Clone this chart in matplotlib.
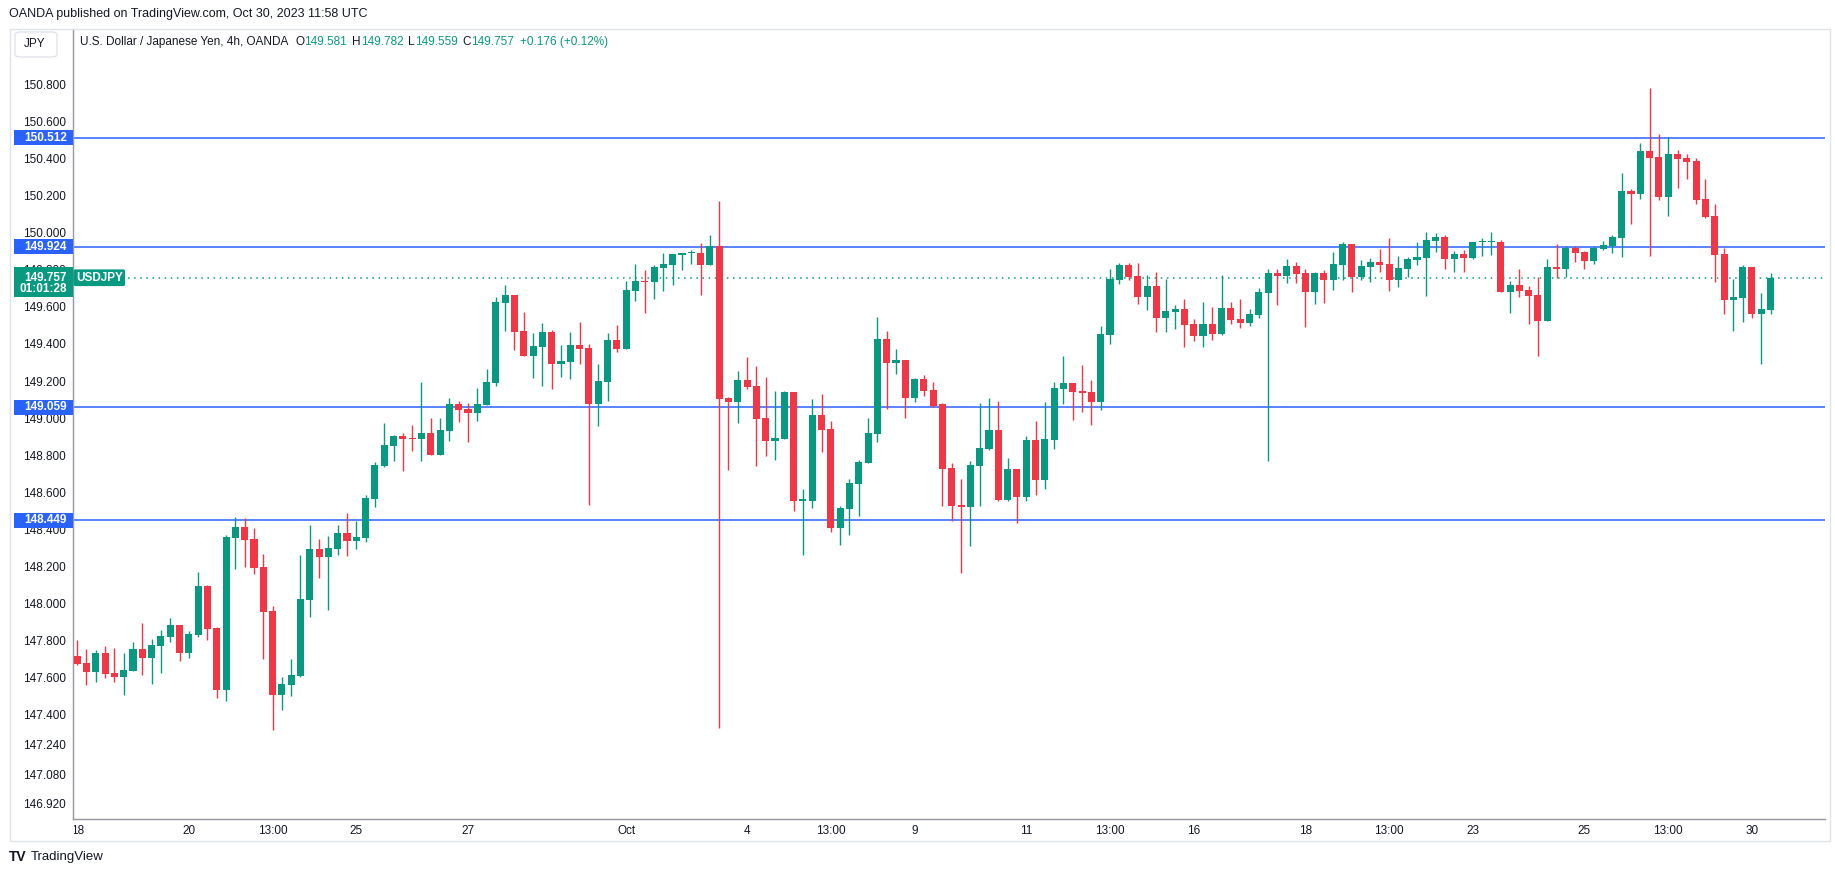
import matplotlib
matplotlib.use('Agg')
import matplotlib.pyplot as plt
import matplotlib.patches as patches
from matplotlib.transforms import blended_transform_factory, IdentityTransform, Bbox, TransformedBbox

plt.rcParams['font.family'] = ['Liberation Sans', 'DejaVu Sans']

# USD/JPY 4h candles, Sep 18 - Oct 30 2023
opens = [
    147.718, 147.680, 147.634, 147.734, 147.626, 147.607, 147.639, 147.756, 147.709, 147.774,
    147.822, 147.885, 147.736, 147.831, 148.096, 147.869, 147.537, 148.356, 148.414, 148.349,
    148.198, 147.961, 147.510, 147.563, 147.612, 148.022, 148.295, 148.254, 148.295, 148.381,
    148.340, 148.356, 148.566, 148.744, 148.852, 148.904, 148.895, 148.889, 148.920, 148.803,
    148.933, 149.076, 149.049, 149.030, 149.071, 149.191, 149.622, 149.664, 149.470, 149.337,
    149.385, 149.464, 149.294, 149.305, 149.394, 149.378, 149.078, 149.196, 149.421, 149.374,
    149.687, 149.739, 149.734, 149.811, 149.827, 149.881, 149.888, 149.890, 149.827, 149.930,
    149.110, 149.088, 149.205, 149.175, 149.001, 148.878, 148.890, 149.141, 148.556, 148.556,
    149.017, 148.942, 148.410, 148.512, 148.647, 148.760, 148.917, 149.427, 149.300, 149.314,
    149.111, 149.211, 149.152, 149.077, 148.732, 148.532, 148.523, 148.744, 148.836, 148.936,
    148.561, 148.726, 148.575, 148.882, 148.666, 148.882, 149.157, 149.189, 149.146, 149.141,
    149.087, 149.448, 149.745, 149.825, 149.766, 149.653, 149.712, 149.540, 149.572, 149.588,
    149.507, 149.443, 149.507, 149.453, 149.594, 149.534, 149.513, 149.556, 149.675, 149.782,
    149.766, 149.820, 149.782, 149.682, 149.782, 149.747, 149.827, 149.939, 149.763, 149.815,
    149.842, 149.831, 149.747, 149.804, 149.854, 149.865, 149.957, 149.977, 149.858, 149.885,
    149.863, 149.948, 149.948, 149.950, 149.682, 149.718, 149.691, 149.664, 149.526, 149.815,
    149.804, 149.917, 149.896, 149.849, 149.912, 149.930, 149.973, 150.225, 150.209, 150.440,
    150.408, 150.192, 150.424, 150.403, 150.386, 150.182, 150.090, 149.885, 149.637, 149.648,
    149.815, 149.563, 149.581,
]
highs = [
    147.804, 147.756, 147.750, 147.772, 147.760, 147.734, 147.792, 147.896, 147.810, 147.858,
    147.923, 147.885, 147.853, 148.171, 148.101, 147.875, 148.370, 148.468, 148.462, 148.408,
    148.268, 147.988, 147.607, 147.702, 148.263, 148.424, 148.349, 148.365, 148.424, 148.489,
    148.446, 148.586, 148.764, 148.974, 148.909, 148.920, 148.963, 149.195, 149.001, 149.001,
    149.109, 149.093, 149.082, 149.163, 149.265, 149.653, 149.718, 149.664, 149.572, 149.459,
    149.513, 149.475, 149.394, 149.464, 149.518, 149.400, 149.292, 149.459, 149.502, 149.739,
    149.831, 149.798, 149.826, 149.890, 149.885, 149.890, 149.906, 149.944, 149.987, 150.169,
    149.116, 149.254, 149.330, 149.281, 149.222, 149.146, 149.147, 149.141, 148.618, 149.104,
    149.131, 148.985, 148.527, 148.672, 148.775, 149.001, 149.546, 149.470, 149.373, 149.314,
    149.217, 149.233, 149.195, 149.082, 148.759, 148.672, 148.769, 149.082, 149.109, 149.093,
    148.786, 148.726, 148.904, 148.984, 149.087, 149.195, 149.335, 149.189, 149.286, 149.205,
    149.497, 149.804, 149.836, 149.836, 149.836, 149.772, 149.788, 149.750, 149.610, 149.642,
    149.534, 149.626, 149.599, 149.772, 149.626, 149.642, 149.588, 149.701, 149.804, 149.804,
    149.858, 149.842, 149.804, 149.788, 149.799, 149.896, 149.950, 149.939, 149.853, 149.863,
    149.912, 149.971, 149.874, 149.869, 149.950, 150.003, 149.998, 149.987, 149.901, 149.906,
    149.950, 149.971, 150.003, 149.960, 149.739, 149.804, 149.712, 149.761, 149.858, 149.939,
    149.928, 149.928, 149.901, 149.928, 149.955, 149.987, 150.322, 150.236, 150.483, 150.780,
    150.532, 150.516, 150.446, 150.424, 150.403, 150.289, 150.155, 149.917, 149.750, 149.826,
    149.815, 149.675, 149.782,
]
lows = [
    147.670, 147.564, 147.580, 147.601, 147.580, 147.510, 147.639, 147.618, 147.569, 147.628,
    147.794, 147.693, 147.709, 147.822, 147.806, 147.494, 147.477, 148.189, 148.200, 148.162,
    147.704, 147.321, 147.424, 147.504, 147.607, 147.930, 148.140, 147.968, 148.263, 148.259,
    148.296, 148.334, 148.523, 148.739, 148.771, 148.717, 148.825, 148.771, 148.803, 148.803,
    148.879, 148.981, 148.873, 148.987, 149.071, 149.175, 149.471, 149.369, 149.337, 149.218,
    149.175, 149.159, 149.223, 149.213, 149.294, 148.533, 148.959, 149.094, 149.358, 149.374,
    149.633, 149.568, 149.644, 149.687, 149.719, 149.800, 149.833, 149.665, 149.827, 147.330,
    148.722, 148.976, 149.159, 148.744, 148.798, 148.776, 148.890, 148.502, 148.264, 148.518,
    148.820, 148.388, 148.315, 148.372, 148.475, 148.760, 148.874, 149.051, 149.240, 149.003,
    149.089, 149.122, 149.062, 148.529, 148.448, 148.163, 148.310, 148.529, 148.830, 148.556,
    148.556, 148.437, 148.553, 148.586, 148.618, 148.834, 149.076, 148.990, 149.033, 148.963,
    149.044, 149.400, 149.723, 149.745, 149.615, 149.583, 149.464, 149.464, 149.480, 149.383,
    149.416, 149.383, 149.421, 149.448, 149.507, 149.486, 149.497, 149.540, 148.769, 149.610,
    149.728, 149.728, 149.493, 149.617, 149.623, 149.693, 149.747, 149.682, 149.747, 149.736,
    149.790, 149.687, 149.709, 149.763, 149.827, 149.660, 149.897, 149.804, 149.790, 149.790,
    149.858, 149.874, 149.880, 149.682, 149.569, 149.655, 149.509, 149.337, 149.526, 149.757,
    149.763, 149.842, 149.806, 149.833, 149.907, 149.890, 149.869, 150.047, 150.182, 149.876,
    150.176, 150.090, 150.241, 150.289, 150.155, 150.079, 149.734, 149.562, 149.472, 149.520,
    149.542, 149.294, 149.559,
]
closes = [
    147.677, 147.634, 147.734, 147.623, 147.607, 147.643, 147.756, 147.709, 147.777, 147.826,
    147.885, 147.736, 147.837, 148.096, 147.866, 147.537, 148.360, 148.414, 148.345, 148.194,
    147.957, 147.510, 147.567, 147.615, 148.025, 148.295, 148.254, 148.300, 148.381, 148.340,
    148.359, 148.570, 148.748, 148.855, 148.904, 148.889, 148.889, 148.920, 148.803, 148.936,
    149.076, 149.046, 149.030, 149.076, 149.195, 149.626, 149.664, 149.466, 149.337, 149.389,
    149.464, 149.294, 149.308, 149.394, 149.374, 149.078, 149.200, 149.421, 149.374, 149.691,
    149.739, 149.734, 149.815, 149.831, 149.885, 149.890, 149.890, 149.827, 149.930, 149.105,
    149.088, 149.205, 149.170, 148.997, 148.878, 148.895, 149.141, 148.556, 148.559, 149.017,
    148.938, 148.410, 148.516, 148.651, 148.764, 148.920, 149.427, 149.300, 149.314, 149.111,
    149.211, 149.149, 149.068, 148.728, 148.529, 148.523, 148.748, 148.839, 148.936, 148.561,
    148.726, 148.577, 148.882, 148.666, 148.887, 149.162, 149.189, 149.141, 149.135, 149.087,
    149.453, 149.750, 149.825, 149.761, 149.653, 149.712, 149.540, 149.577, 149.588, 149.502,
    149.443, 149.507, 149.453, 149.594, 149.529, 149.513, 149.561, 149.680, 149.782, 149.766,
    149.820, 149.777, 149.682, 149.782, 149.747, 149.831, 149.939, 149.763, 149.820, 149.842,
    149.827, 149.747, 149.809, 149.858, 149.869, 149.960, 149.977, 149.858, 149.885, 149.863,
    149.950, 149.950, 149.950, 149.682, 149.718, 149.687, 149.660, 149.526, 149.815, 149.804,
    149.917, 149.890, 149.849, 149.917, 149.934, 149.977, 150.225, 150.209, 150.440, 150.403,
    150.192, 150.424, 150.397, 150.381, 150.176, 150.085, 149.880, 149.637, 149.653, 149.815,
    149.563, 149.589, 149.757,
]

# horizontal levels drawn on the chart
levels = [150.512, 149.924, 149.059, 148.449]
last_price = 149.757
countdown = '01:01:28'

price_ticks = [150.8, 150.6, 150.4, 150.2, 150.0, 149.8, 149.6, 149.4, 149.2, 149.0,
               148.8, 148.6, 148.4, 148.2, 148.0, 147.8, 147.6, 147.4, 147.24, 147.08, 146.92]
# time axis labels: bar index -> label
time_pos = [0, 12, 21, 30, 42, 59, 72, 81, 90, 102, 111, 120, 132, 141, 150, 162, 171, 180]
time_labels = ['18', '20', '13:00', '25', '27', 'Oct', '4', '13:00', '9', '11', '13:00',
               '16', '18', '13:00', '23', '25', '13:00', '30']

UP = '#089981'
DOWN = '#F23645'
BLUE = '#2962FF'
TXT = '#131722'

W, H = 1835, 875
fig = plt.figure(figsize=(W / 100, H / 100), dpi=100)
fig.patch.set_facecolor('white')

# plot area in pixels: x 73..1825, y 29..819 (from top)
ax = fig.add_axes([73 / W, 1 - 819 / H, (1825 - 73) / W, (819 - 29) / H])
ax.set_facecolor('white')

n = len(opens)
xs = list(range(n))
cols = [UP if c >= o else DOWN for o, c in zip(opens, closes)]
ax.vlines(xs, lows, highs, colors=cols, linewidth=1.0, zorder=2)
bottoms = [min(o, c) for o, c in zip(opens, closes)]
heights = [max(abs(c - o), 0.006) for o, c in zip(opens, closes)]
ax.bar(xs, heights, bottom=bottoms, width=0.76, color=cols, linewidth=0, zorder=3)

for lv in levels:
    ax.axhline(lv, color=BLUE, linewidth=1.1, zorder=1)
ax.axhline(last_price, color=UP, linewidth=1.1, linestyle=(0, (1, 3)), zorder=1)

ax.set_xlim(-0.45, 187.85)
ax.set_ylim(146.839, 151.098)

ax.set_yticks(price_ticks)
ax.set_yticklabels(['%.3f' % p for p in price_ticks])
ax.set_xticks(time_pos)
ax.set_xticklabels(time_labels)
ax.tick_params(axis='both', length=0, labelsize=8.5, labelcolor=TXT)
ax.tick_params(axis='y', pad=5)
ax.tick_params(axis='x', pad=4)

# first date label is half hidden behind the price scale
lab0 = ax.get_xticklabels()[0]
lab0.set_clip_box(TransformedBbox(Bbox([[73.5 / W, 0], [1, 1]]), fig.transFigure))
lab0.set_clip_on(True)

for s in ['top', 'right']:
    ax.spines[s].set_visible(False)
for s in ['left', 'bottom']:
    ax.spines[s].set_color('#9598A1')
    ax.spines[s].set_linewidth(1.0)

# outer widget border
fig.patches.append(patches.Rectangle((10 / W, 1 - 841 / H), (1830 - 10) / W, (841 - 29) / H,
                                     transform=fig.transFigure, fill=False,
                                     edgecolor='#E0E3EB', linewidth=1.0))

# price labels of the levels on the price scale (boxes from x=14px to the axis)
tr = blended_transform_factory(ax.transAxes, ax.transData)
box_x0 = -(73 - 14) / (1825 - 73)
box_w = -box_x0
for lv in levels:
    ax.add_patch(patches.Rectangle((box_x0, lv - 0.041), box_w, 0.082, transform=tr,
                                   fc=BLUE, ec='none', zorder=10, clip_on=False))
    ax.text(-0.0034, lv, '%.3f' % lv, transform=tr, ha='right', va='center', fontsize=8.5,
            color='white', fontweight='bold', zorder=11, clip_on=False)
ax.add_patch(patches.Rectangle((box_x0, last_price - 0.105), box_w, 0.165, transform=tr,
                               fc=UP, ec='none', zorder=10, clip_on=False))
ax.text(-0.0034, last_price, '%.3f' % last_price, transform=tr, ha='right', va='center',
        fontsize=8.5, color='white', fontweight='bold', zorder=11, clip_on=False)
ax.text(-0.0034, last_price - 0.062, countdown, transform=tr, ha='right', va='center',
        fontsize=8.5, color='white', fontweight='bold', zorder=11, clip_on=False)
ax.text(0.0016, last_price, 'USDJPY', transform=tr, ha='left', va='center', fontsize=8.5,
        color='white', fontweight='bold', zorder=11,
        bbox=dict(boxstyle='round,pad=0.2,rounding_size=0.15', fc=UP, ec='none'))

# header texts
fig.text(9 / W, 1 - 14 / H, 'OANDA published on TradingView.com, Oct 30, 2023 11:58 UTC',
         fontsize=9, color=TXT, va='center', ha='left')

fig.patches.append(patches.FancyBboxPatch((15 / W, 1 - 57 / H), 42 / W, 25 / H,
                                          boxstyle='round,pad=0,rounding_size=0.003',
                                          transform=fig.transFigure, fc='white',
                                          ec='#E0E3EB', linewidth=1.0))
fig.text(35 / W, 1 - 44 / H, 'JPY', fontsize=8.5, color=TXT, ha='center', va='center')

renderer = fig.canvas.get_renderer()
parts = [('U.S. Dollar / Japanese Yen, 4h, OANDA', TXT, 7), ('O', TXT, 0), ('149.581', UP, 5),
         ('H', TXT, 0), ('149.782', UP, 5), ('L', TXT, 0), ('149.559', UP, 5),
         ('C', TXT, 0), ('149.757', UP, 6), ('+0.176 (+0.12%)', UP, 0)]
px = 80
for s, c, gap in parts:
    t = fig.text(px, H - 42, s, fontsize=8.5, color=c, va='center', ha='left',
                 transform=IdentityTransform())
    px += t.get_window_extent(renderer).width + gap

# footer logo
fig.text(9 / W, 1 - 857 / H, 'TV', fontsize=10, fontweight='bold', color=TXT,
         va='center', ha='left')
fig.text(31 / W, 1 - 857 / H, 'TradingView', fontsize=9.5, color=TXT, va='center', ha='left')

fig.savefig('out.png', dpi=100, facecolor='white')
